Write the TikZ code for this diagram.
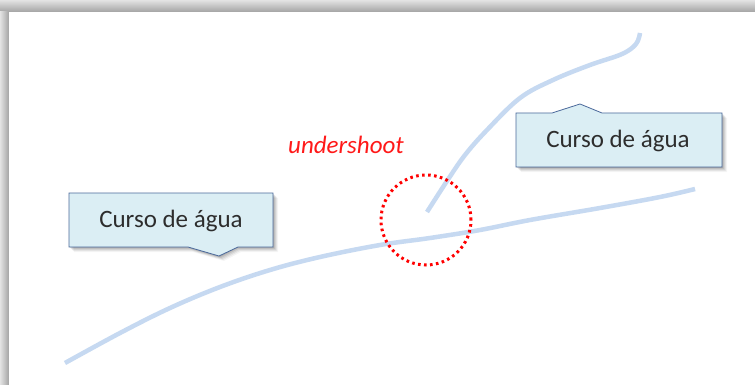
\documentclass[tikz,border=0pt]{standalone}
\usepackage{fontspec}
\setmainfont{Carlito}
\definecolor{river}{RGB}{198,217,241}
\definecolor{boxfill}{RGB}{219,238,244}
\definecolor{boxline}{RGB}{75,105,155}
\definecolor{txt}{RGB}{45,45,45}
\tikzset{
  riverline/.style={draw=river, line width=4.5pt, line cap=butt, line join=round},
  calloutbox/.style={fill=boxfill, draw=boxline, line width=0.8pt, line join=miter},
  labeltext/.style={font=\fontsize{25}{30}\selectfont, text=txt, inner sep=0pt},
  ring/.style={circle, draw=red, line width=3pt, dash pattern=on 2.6pt off 3.4pt, minimum size=90pt, inner sep=0pt},
}
\begin{document}
\begin{tikzpicture}[x=1pt,y=-1pt]
\useasboundingbox (0,0) rectangle (755,385);
% page shadow
\fill[gray!45] (0,0) rectangle (755,385);
\shade[top color=gray!22, bottom color=gray!72] (0,0) rectangle (755,12);
\shade[left color=gray!22, right color=gray!72] (0,12) rectangle (9,385);
\fill[white] (9,12) rectangle (755,385);

% rivers
\draw[riverline] plot[smooth, tension=0.6] coordinates {(65,363) (120,333) (170,308) (220,287) (270,270) (320,257) (380,245) (430,238) (480,230) (530,220) (600,208) (660,197) (695,189)};
\draw[riverline] plot[smooth, tension=0.6] coordinates {(427,212) (447,181) (465,155) (487,130) (520,98) (553,80) (590,65) (622,54) (636,44) (640,33)};

% undershoot ring
\node[ring] (gap) at (426,220) {};
\node[labeltext, text=red!90!white, font=\fontsize{25}{30}\selectfont\itshape] (us) at (346,145) {undershoot};

% callout 1 with shadow
\foreach \d/\o in {1/0.10,2/0.09,3/0.08,4/0.06,5/0.04}{
  \fill[black, opacity=\o] ([shift={(\d,\d)}]69,193) -- ++(204,0) -- ++(0,54) -- ++(-37,0) -- ++(-17,9) -- ++(-31,-9) -- ++(-119,0) -- cycle;
}
\path[calloutbox] (69,193) -- (273,193) -- (273,247) -- (238,247) -- (219,256) -- (188,247) -- (69,247) -- cycle;
\node[labeltext] (lab1) at (171,221) {Curso de água};

% callout 2 with shadow
\foreach \d/\o in {1/0.10,2/0.09,3/0.08,4/0.06,5/0.04}{
  \fill[black, opacity=\o] ([shift={(\d,\d)}]516,113) -- ++(36,0) -- ++(28,-9) -- ++(22,9) -- ++(120,0) -- ++(0,54) -- ++(-206,0) -- cycle;
}
\path[calloutbox] (516,113) -- (552,113) -- (580,104) -- (602,113) -- (722,113) -- (722,167) -- (516,167) -- cycle;
\node[labeltext] (lab2) at (618,141) {Curso de água};
\end{tikzpicture}
\end{document}
